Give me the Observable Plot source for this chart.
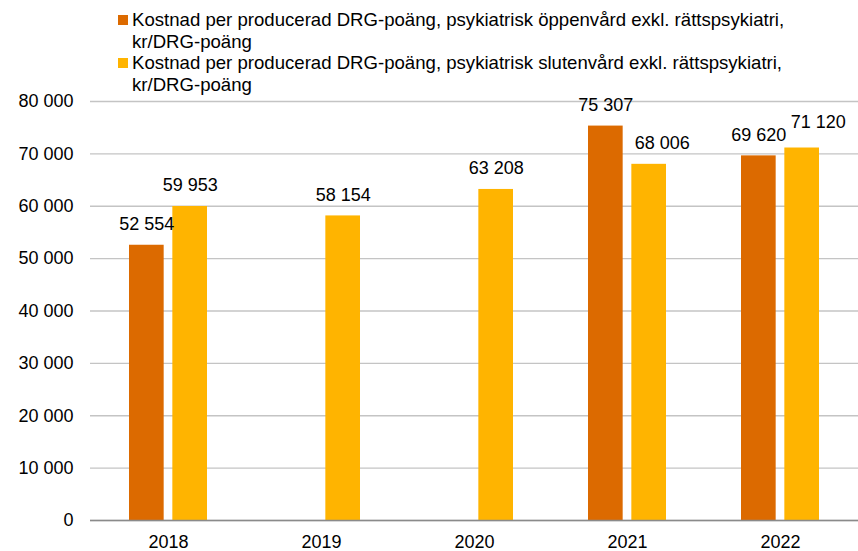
<!DOCTYPE html>
<html>
<head>
<meta charset="utf-8">
<script src="https://cdn.jsdelivr.net/npm/d3@7"></script>
<script src="https://cdn.jsdelivr.net/npm/@observablehq/plot@0.6"></script>
<style>
  html, body { margin: 0; padding: 0; background: #fff; }
  body { width: 858px; height: 551px; overflow: hidden; font-family: "Liberation Sans", Arial, sans-serif; color: #000; }
  #legend { position: relative; height: 92px; box-sizing: border-box; padding-top: 9px; padding-left: 118px; font-size: 18.6px; line-height: 21.5px; }
  .item { display: flex; align-items: flex-start; }
  .sw { width: 10px; height: 10px; margin-top: 6px; margin-right: 4px; flex: none; }
  .lbl { max-width: 720px; }
  .nw { white-space: nowrap; }
</style>
</head>
<body>
<div id="legend"></div>
<div id="chart"></div>
<script>
const years = ["2018", "2019", "2020", "2021", "2022"];
const seriesNames = [
  "Kostnad per producerad DRG-poäng, psykiatrisk öppenvård exkl. rättspsykiatri, kr/DRG-poäng",
  "Kostnad per producerad DRG-poäng, psykiatrisk slutenvård exkl. rättspsykiatri, kr/DRG-poäng"
];
const oppenvard = [52554, null, null, 75307, 69620];
const slutenvard = [59953, 58154, 63208, 68006, 71120];
const yTicks = [0, 10000, 20000, 30000, 40000, 50000, 60000, 70000, 80000];
const colors = ["#DC6A00", "#FFB400"];

// label nudges (style only) for the second series, as in the reference where labels were moved to avoid overlap
const labelNudgeB = {"2021": [13, 0], "2022": [16, -5]};

const fmt = d3.formatLocale({thousands: "\u00a0", grouping: [3], decimal: ","}).format(",");

const rowsA = years.map((y, i) => ({year: y, value: oppenvard[i]})).filter(d => d.value != null);
const rowsB = years.map((y, i) => ({year: y, value: slutenvard[i]})).filter(d => d.value != null);

const legend = document.getElementById("legend");
seriesNames.forEach((name, i) => {
  const it = document.createElement("div");
  it.className = "item";
  const sw = document.createElement("div");
  sw.className = "sw";
  sw.style.background = colors[i];
  const lb = document.createElement("div");
  lb.className = "lbl";
  const cut = name.lastIndexOf(", ") + 2;
  lb.appendChild(document.createTextNode(name.slice(0, cut)));
  const tail = document.createElement("span");
  tail.className = "nw";
  tail.textContent = name.slice(cut);
  lb.appendChild(tail);
  it.appendChild(sw);
  it.appendChild(lb);
  legend.appendChild(it);
});

const bw = 768 * (1 - 0.49) / 5; // band width in px
const barW = 35;
const inset = bw - barW;
const off = bw / 2 - barW / 2;

const textMarksB = rowsB.map(d => {
  const [nx, ny] = labelNudgeB[d.year] || [0, 0];
  return Plot.text([d], {x: "year", y: "value", text: r => fmt(r.value), dx: off + nx, dy: -21 + ny, fill: "#000", fontSize: 18});
});

const chart = Plot.plot({
  width: 858,
  height: 459,
  marginLeft: 90,
  marginRight: 0,
  marginTop: 9,
  marginBottom: 31,
  style: {fontFamily: "'Liberation Sans', Arial, sans-serif", fontSize: "18px", color: "#000", background: "#fff", overflow: "visible"},
  x: {domain: years, paddingInner: 0.49, paddingOuter: 0.245, label: null, tickSize: 0, tickPadding: 15},
  y: {domain: [0, 80000], ticks: yTicks, tickFormat: d => fmt(d), label: null, tickSize: 0, tickPadding: 17},
  marks: [
    Plot.gridY(yTicks, {stroke: "#c4c4c4", strokeOpacity: 1, strokeWidth: 1.3}),
    Plot.barY(rowsA, {x: "year", y: "value", fill: colors[0], insetRight: inset}),
    Plot.barY(rowsB, {x: "year", y: "value", fill: colors[1], insetLeft: inset}),
    Plot.ruleY([0], {stroke: "#8a8a8a", strokeWidth: 1.6}),
    Plot.text(rowsA, {x: "year", y: "value", text: d => fmt(d.value), dx: -off, dy: -21, fill: "#000", fontSize: 18}),
    ...textMarksB
  ]
});
document.getElementById("chart").appendChild(chart);
</script>
</body>
</html>
